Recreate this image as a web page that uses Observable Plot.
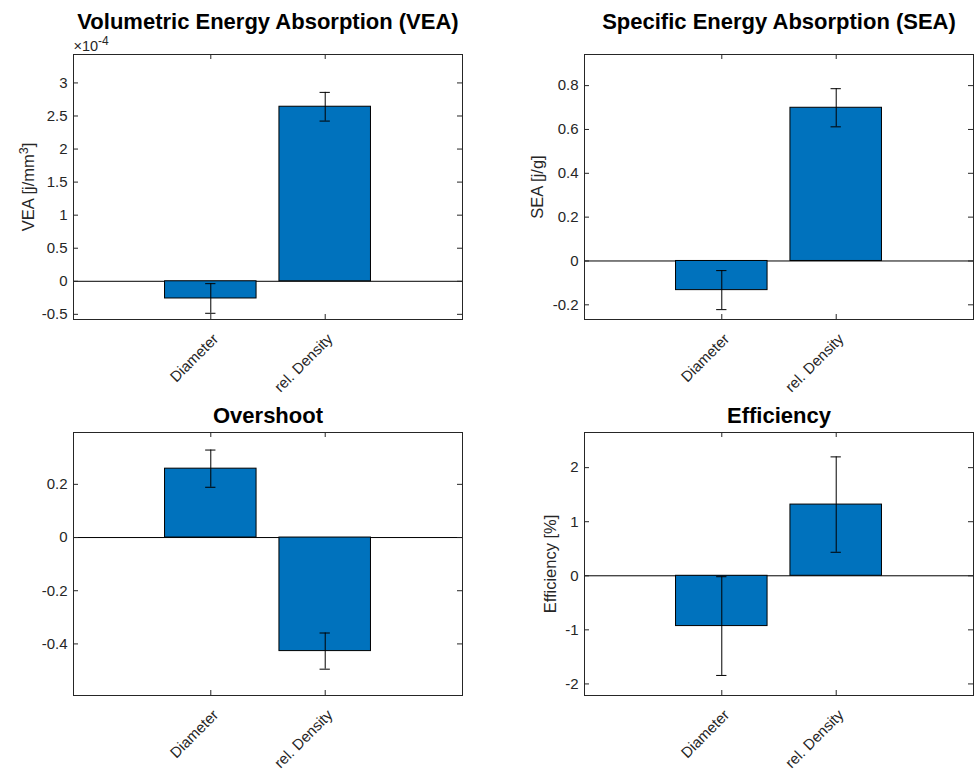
<!DOCTYPE html>
<html>
<head>
<meta charset="utf-8">
<script src="https://cdn.jsdelivr.net/npm/d3@7"></script>
<script src="https://cdn.jsdelivr.net/npm/@observablehq/plot@0.6"></script>
<style>
  html, body { margin: 0; padding: 0; background: #fff; }
  #chart { position: relative; width: 976px; height: 770px; background: #fff; }
  #chart svg { position: absolute; }
</style>
</head>
<body>
<div id="chart"></div>
<script>
// ---------- data ----------
const categories = ["Diameter", "rel. Density"];
const categoryPositions = [1, 2];

// Volumetric Energy Absorption (values in units of 1e-4 j/mm^3)
const veaTitle = "Volumetric Energy Absorption (VEA)";
const veaLabel = ["VEA [j/mm", "3", "]"]; // base, superscript, tail
const veaMean = [-0.26, 2.64];
const veaErr = [0.224, 0.217];
const veaTicks = [-0.5, 0, 0.5, 1, 1.5, 2, 2.5, 3];
const veaDomain = [-0.578, 3.43];
const veaExponent = ["×10", "-4"];

// Specific Energy Absorption
const seaTitle = "Specific Energy Absorption (SEA)";
const seaLabel = ["SEA [j/g]"];
const seaMean = [-0.133, 0.699];
const seaErr = [0.089, 0.087];
const seaTicks = [-0.2, 0, 0.2, 0.4, 0.6, 0.8];
const seaDomain = [-0.267, 0.942];

// Overshoot
const overTitle = "Overshoot";
const overLabel = null;
const overMean = [0.259, -0.427];
const overErr = [0.07, 0.068];
const overTicks = [-0.4, -0.2, 0, 0.2];
const overDomain = [-0.594, 0.395];

// Efficiency
const effTitle = "Efficiency";
const effLabel = ["Efficiency [%]"];
const effMean = [-0.93, 1.317];
const effErr = [0.913, 0.882];
const effTicks = [-2, -1, 0, 1, 2];
const effDomain = [-2.214, 2.65];

const xDomain = [-0.2, 3.2];

// ---------- layout ----------
const FONT = '"Liberation Sans", Arial, Helvetica, sans-serif';
const TXT = "#262626";
const BLUE = "#0072BD";
const NS = "http://www.w3.org/2000/svg";

// turn "base|sup|tail" text into real text with a raised superscript
function superscriptify(svg, parts, supSize, rise) {
  const joined = parts.join("");
  for (const t of svg.querySelectorAll("text")) {
    if (t.textContent === joined) {
      while (t.firstChild) t.removeChild(t.firstChild);
      t.appendChild(document.createTextNode(parts[0]));
      const s = document.createElementNS(NS, "tspan");
      s.setAttribute("font-size", supSize);
      s.setAttribute("dy", -rise);
      s.textContent = parts[1];
      t.appendChild(s);
      if (parts[2]) {
        const r = document.createElementNS(NS, "tspan");
        r.setAttribute("dy", rise);
        r.textContent = parts[2];
        t.appendChild(r);
      }
    }
  }
}

function panel({title, label, mean, err, ticks, domain, exponent,
                left, top, width, height, mt, mr, mb, ml, titleDy, labelDx}) {
  const data = categories.map((c, k) => ({
    name: c, pos: categoryPositions[k], value: mean[k],
    lo: mean[k] - err[k], hi: mean[k] + err[k]
  }));
  const fw = width - ml - mr;
  const fh = height - mt - mb;
  const barHalf = 0.4, capHalf = 0.045;
  const marks = [
    Plot.ruleY([0], {stroke: "#000", strokeWidth: 1}),
    Plot.rect(data, {x1: d => d.pos - barHalf, x2: d => d.pos + barHalf, y1: 0, y2: "value",
                     fill: BLUE, stroke: "#000", strokeWidth: 1}),
    Plot.ruleX(data, {x: "pos", y1: "lo", y2: "hi", stroke: "#000", strokeWidth: 1}),
    Plot.ruleY(data, {y: "lo", x1: d => d.pos - capHalf, x2: d => d.pos + capHalf, stroke: "#000", strokeWidth: 1}),
    Plot.ruleY(data, {y: "hi", x1: d => d.pos - capHalf, x2: d => d.pos + capHalf, stroke: "#000", strokeWidth: 1}),
    Plot.frame({stroke: TXT, strokeWidth: 1}),
    // inward ticks
    Plot.tickY(ticks, {y: d => d, insetRight: fw - 5, stroke: TXT}),
    Plot.tickY(ticks, {y: d => d, insetLeft: fw - 5, stroke: TXT}),
    Plot.tickX(categoryPositions, {x: d => d, insetTop: fh - 5, stroke: TXT}),
    Plot.tickX(categoryPositions, {x: d => d, insetBottom: fh - 5, stroke: TXT}),
    Plot.axisY({ticks, tickFormat: d => String(d), tickSize: 0, tickPadding: 6,
                label: null, fontSize: 15, fill: TXT}),
    Plot.text(data, {x: "pos", text: "name", frameAnchor: "bottom", rotate: -45,
                     textAnchor: "end", lineAnchor: "middle", dx: 5, dy: 17,
                     fontSize: 15, fill: TXT}),
    Plot.text([title], {text: d => d, frameAnchor: "top", lineAnchor: "bottom",
                        dy: titleDy, fontSize: 22, fontWeight: "bold", fill: "#000"})
  ];
  if (label) {
    marks.push(Plot.text([label.join("")], {text: d => d, frameAnchor: "left", rotate: -90,
                                   textAnchor: "middle", lineAnchor: "middle", dx: labelDx,
                                   fontSize: 16.5, fill: TXT}));
  }
  if (exponent) {
    marks.push(Plot.text([exponent.join("")], {text: d => d, frameAnchor: "top-left", textAnchor: "start",
                                   lineAnchor: "bottom", dy: -4, fontSize: 14.5, fill: TXT}));
  }
  const svg = Plot.plot({
    width, height,
    marginTop: mt, marginRight: mr, marginBottom: mb, marginLeft: ml,
    style: {fontFamily: FONT, fontSize: "15px", color: TXT, background: "transparent", overflow: "visible"},
    x: {type: "linear", domain: xDomain, axis: null},
    y: {type: "linear", domain},
    marks
  });
  if (label && label.length > 1) superscriptify(svg, label, 12.5, 6);
  if (exponent) superscriptify(svg, exponent, 12, 6);
  svg.style.left = left + "px";
  svg.style.top = top + "px";
  return svg;
}

const chart = document.getElementById("chart");
chart.appendChild(panel({title: veaTitle, label: veaLabel, mean: veaMean, err: veaErr,
  ticks: veaTicks, domain: veaDomain, exponent: veaExponent,
  left: 0, top: 0, width: 488, height: 385, mt: 54, mr: 26, mb: 66, ml: 73,
  titleDy: -26, labelDx: -45}));
chart.appendChild(panel({title: seaTitle, label: seaLabel, mean: seaMean, err: seaErr,
  ticks: seaTicks, domain: seaDomain,
  left: 488, top: 0, width: 488, height: 385, mt: 54, mr: 3, mb: 66, ml: 96,
  titleDy: -26, labelDx: -47}));
chart.appendChild(panel({title: overTitle, label: overLabel, mean: overMean, err: overErr,
  ticks: overTicks, domain: overDomain,
  left: 0, top: 385, width: 488, height: 385, mt: 47, mr: 26, mb: 75, ml: 73,
  titleDy: -10, labelDx: -45}));
chart.appendChild(panel({title: effTitle, label: effLabel, mean: effMean, err: effErr,
  ticks: effTicks, domain: effDomain,
  left: 488, top: 385, width: 488, height: 385, mt: 47, mr: 3, mb: 75, ml: 96,
  titleDy: -10, labelDx: -34}));
</script>
</body>
</html>
